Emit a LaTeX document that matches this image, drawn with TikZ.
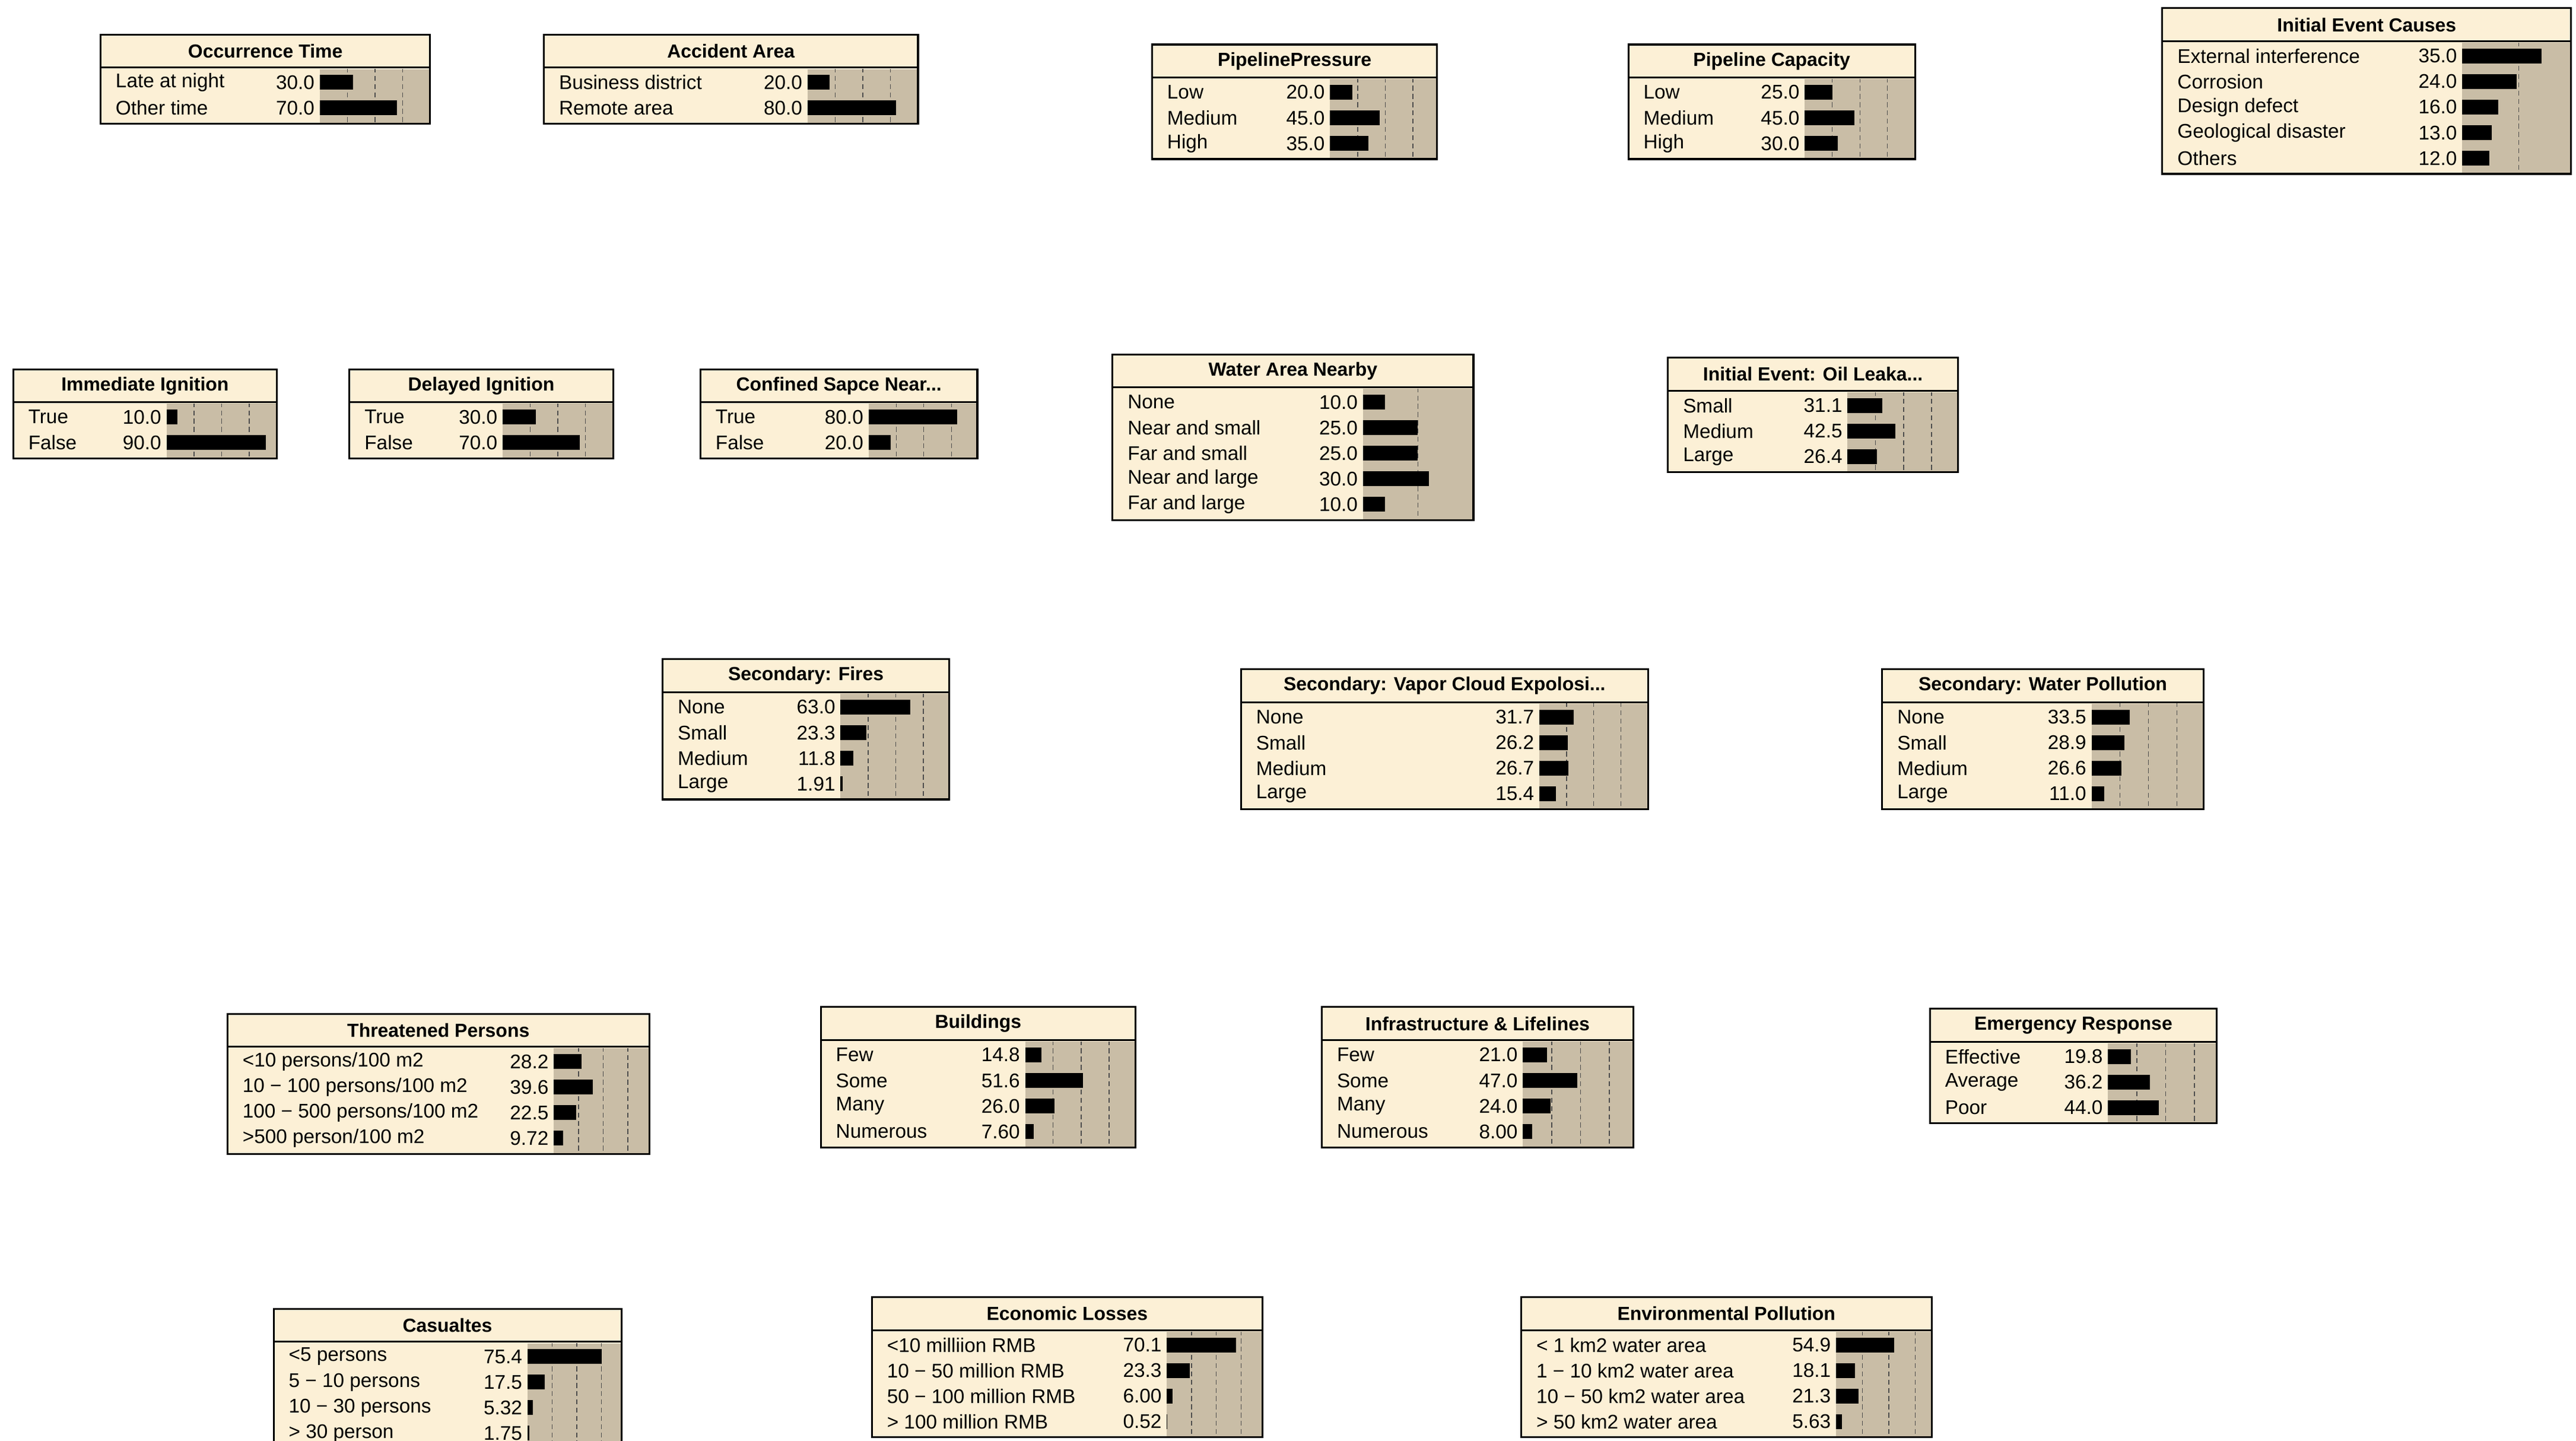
\documentclass[tikz,border=0pt]{standalone}
\usepackage{fontspec}
\setmainfont{Liberation Sans}
\usetikzlibrary{arrows.meta,backgrounds}
\definecolor{bnbg}{HTML}{FCF0D6}
\definecolor{bntan}{HTML}{C9BDA6}
\tikzset{
  arr/.style={draw=black!85,line width=0.7pt,-{Triangle[length=10pt,width=7pt]}},
  ttl/.style={font=\fontsize{11.5}{13}\selectfont\bfseries},
  row/.style={font=\fontsize{12}{14}\selectfont,inner sep=0pt},
}
\newcommand\bnbox[9]{%
  \pgfmathsetmacro\yb{#4+20+#5*15.5+3}%
  \pgfmathsetmacro\ty{#4+20}%
  \node[rectangle,inner sep=0pt,minimum width={(#3-#2)*1pt},minimum height={(\yb-#4)*1pt}] (#1) at ({(#2+#3)/2},{(#4+\yb)/2}) {};
  \fill[bnbg] (#2,#4) rectangle (#3,\yb);
  \fill[bntan] (#6,\ty+1) rectangle (#3,\yb);
  \begin{scope}
    \clip (#6,\ty+1) rectangle (#3,\yb);
    \foreach \g in {1,...,4}{\draw[black!70,densely dashed,line width=0.5pt] ({#6+\g*25*#7},\ty) -- ({#6+\g*25*#7},\yb);}
  \end{scope}
  \draw[line width=1.1pt] (#2,\ty) -- (#3,\ty);
  \draw[line width=1.1pt] (#2,#4) rectangle (#3,\yb);
  \node[ttl] at ({(#2+#3)/2},#4+10) {#8};
  \foreach \lab/\val [count=\i] in {#9}{%
    \pgfmathsetmacro\yy{#4+20+9+(\i-1)*15.5}%
    \node[row,anchor=west] at (#2+9,\yy) {\lab};
    \node[row,anchor=east] at (#6-3,\yy) {\val};
    \fill (#6,\yy-4.5) rectangle ({#6+\val*#7},\yy+4.5);
  }%
}
\begin{document}
\begin{tikzpicture}[x=1pt,y=-1pt]
\fill[white] (0,0) rectangle (1563,874);
\useasboundingbox (0,0) rectangle (1563,874);
\bnbox{occ}{61}{261}{21}{2}{194}{0.67}{Occurrence Time}{Late at night/30.0,Other time/70.0}
\bnbox{acc}{330}{557}{21}{2}{490}{0.67}{Accident Area}{Business district/20.0,Remote area/80.0}
\bnbox{pp}{699}{872}{27}{3}{807}{0.67}{PipelinePressure}{Low/20.0,Medium/45.0,High/35.0}
\bnbox{pc}{988}{1162}{27}{3}{1095}{0.67}{Pipeline Capacity}{Low/25.0,Medium/45.0,High/30.0}
\bnbox{iec}{1312}{1560}{5}{5}{1494}{1.37}{Initial Event Causes}{External interference/35.0,Corrosion/24.0,Design defect/16.0,Geological disaster/13.0,Others/12.0}
\bnbox{imm}{8}{168}{224}{2}{101}{0.67}{Immediate Ignition}{True/10.0,False/90.0}
\bnbox{del}{212}{372}{224}{2}{305}{0.67}{Delayed Ignition}{True/30.0,False/70.0}
\bnbox{con}{425}{593}{224}{2}{527}{0.67}{Confined Sapce Near...}{True/80.0,False/20.0}
\bnbox{wat}{675}{894}{215}{5}{827}{1.33}{Water Area Nearby}{None/10.0,Near and small/25.0,Far and small/25.0,Near and large/30.0,Far and large/10.0}
\bnbox{ie}{1012}{1188}{217}{3}{1121}{0.68}{Initial Event: Oil Leaka...}{Small/31.1,Medium/42.5,Large/26.4}
\bnbox{fir}{402}{576}{400}{4}{510}{0.67}{Secondary: Fires}{None/63.0,Small/23.3,Medium/11.8,Large/1.91}
\bnbox{vap}{753}{1000}{406}{4}{934}{0.66}{Secondary: Vapor Cloud Expolosi...}{None/31.7,Small/26.2,Medium/26.7,Large/15.4}
\bnbox{wp}{1142}{1337}{406}{4}{1269}{0.69}{Secondary: Water Pollution}{None/33.5,Small/28.9,Medium/26.6,Large/11.0}
\bnbox{thr}{138}{394}{615}{4}{336}{0.6}{Threatened Persons}{{<10 persons/100 m2}/28.2,{10 − 100 persons/100 m2}/39.6,{100 − 500 persons/100 m2}/22.5,{>500 person/100 m2}/9.72}
\bnbox{bld}{498}{689}{611}{4}{622}{0.68}{Buildings}{Few/14.8,Some/51.6,Many/26.0,Numerous/7.60}
\bnbox{inf}{802}{991}{611}{4}{924}{0.7}{Infrastructure \& Lifelines}{Few/21.0,Some/47.0,Many/24.0,Numerous/8.00}
\bnbox{emg}{1171}{1345}{612}{3}{1279}{0.7}{Emergency Response}{Effective/19.8,Average/36.2,Poor/44.0}
\bnbox{cas}{166}{377}{794}{4}{320}{0.6}{Casualtes}{<5 persons/75.4,5 − 10 persons/17.5,10 − 30 persons/5.32,> 30 person/1.75}
\bnbox{eco}{529}{766}{787}{4}{708}{0.6}{Economic Losses}{<10 milliion RMB/70.1,10 − 50 million RMB/23.3,50 − 100 million RMB/6.00,> 100 million RMB/0.52}
\bnbox{env}{923}{1172}{787}{4}{1114}{0.64}{Environmental Pollution}{< 1 km2 water area/54.9,1 − 10 km2 water area/18.1,10 − 50 km2 water area/21.3,> 50 km2 water area/5.63}
\begin{pgfonlayer}{background}
\foreach \a/\b in {occ/thr,occ/vap,acc/thr,acc/bld,acc/inf,acc/emg,pp/ie,pc/ie,iec/ie,
  imm/fir,del/fir,ie/fir,ie/vap,ie/wp,wat/wp,con/vap,
  vap/emg,vap/eco,vap/cas,fir/cas,fir/eco,wp/env,thr/cas,bld/eco,inf/eco,
  emg/cas,emg/eco,emg/env}
  \draw[arr] (\a) -- (\b);
\end{pgfonlayer}
\end{tikzpicture}
\end{document}
